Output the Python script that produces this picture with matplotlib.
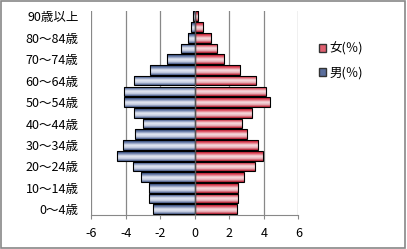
"""人口ピラミッド（男女別・5歳階級）"""

import matplotlib.pyplot as plt
import numpy as np
from matplotlib.colors import LinearSegmentedColormap
from matplotlib.patches import Rectangle

plt.rcParams["font.family"] = ["Noto Sans CJK JP", "DejaVu Sans"]

ages = [
    "0～4歳", "5～9歳", "10～14歳", "15～19歳", "20～24歳", "25～29歳",
    "30～34歳", "35～39歳", "40～44歳", "45～49歳", "50～54歳", "55～59歳",
    "60～64歳", "65～69歳", "70～74歳", "75～79歳", "80～84歳", "85～89歳",
    "90歳以上",
]
male = [2.43, 2.67, 2.67, 3.13, 3.59, 4.49, 4.14, 3.48, 2.98, 3.54,
        4.08, 4.08, 3.50, 2.60, 1.58, 0.80, 0.37, 0.22, 0.10]
female = [2.42, 2.53, 2.53, 2.83, 3.47, 3.93, 3.66, 3.00, 2.71, 3.30,
          4.34, 4.10, 3.55, 2.62, 1.72, 1.26, 0.93, 0.50, 0.20]
xticks = [-6, -4, -2, 0, 2, 4, 6]

blue = LinearSegmentedColormap.from_list(
    "blue", ["#1d3566", "#6f82ad", "#e4e8f2", "#c9d1e4", "#4b5f8e"])
red = LinearSegmentedColormap.from_list(
    "red", ["#c00018", "#de5a6a", "#f6dde0", "#eab4bb", "#b8182c"])
grad = np.linspace(0, 1, 64).reshape(-1, 1)


def gradient_bars(ax, bars, cmap):
    """各棒をグラデーションで塗る"""
    for patch in bars:
        x0, y0 = patch.get_x(), patch.get_y()
        x1, y1 = x0 + patch.get_width(), y0 + patch.get_height()
        im = ax.imshow(grad, cmap=cmap, aspect="auto", origin="upper",
                       extent=(min(x0, x1), max(x0, x1), y0, y1), zorder=3)
        im.set_clip_path(patch)


fig = plt.figure(figsize=(4.07, 2.49), dpi=100)
ax = fig.add_axes([0.224, 0.138, 0.509, 0.818])

y = np.arange(len(ages))
m_bars = ax.barh(y, -np.array(male), height=0.9, facecolor="none",
                 edgecolor="black", linewidth=0.8, zorder=4)
f_bars = ax.barh(y, female, height=0.9, facecolor="none",
                 edgecolor="black", linewidth=0.8, zorder=4)
gradient_bars(ax, m_bars, blue)
gradient_bars(ax, f_bars, red)

ax.set_xlim(-6, 6)
ax.set_ylim(-0.5, len(ages) - 0.5)
ax.set_xticks(xticks)
ax.set_xticklabels([str(t) for t in xticks], fontsize=9)
ax.set_yticks(y)
ax.set_yticklabels([a if i % 2 == 0 else "" for i, a in enumerate(ages)],
                   fontsize=9)
ax.tick_params(axis="y", length=0, pad=9)
ax.tick_params(axis="x", length=3, color="#888888", pad=6)
ax.grid(axis="x", color="#888888", linewidth=0.9, zorder=0)
ax.axvline(0, color="#555555", linewidth=1.0, zorder=5)
for side in ["top", "right", "left"]:
    ax.spines[side].set_visible(False)
ax.spines["bottom"].set_color("#888888")

# 凡例（女が上）
box_f = Rectangle((0, 0), 1, 1, facecolor="#e06070", edgecolor="#333333")
box_m = Rectangle((0, 0), 1, 1, facecolor="#5a6e9c", edgecolor="#333333")
fig.legend([box_f, box_m], ["女(％)", "男(％)"], loc="upper left",
           bbox_to_anchor=(0.755, 0.875), frameon=False, fontsize=9,
           handlelength=0.6, handleheight=0.6, handletextpad=0.3,
           labelspacing=0.85)

fig.patches.append(Rectangle((0.002, 0.004), 0.994, 0.992,
                             transform=fig.transFigure, fill=False,
                             edgecolor="#888888", linewidth=1.2))

fig.savefig("out.png", dpi=100)
plt.close(fig)
